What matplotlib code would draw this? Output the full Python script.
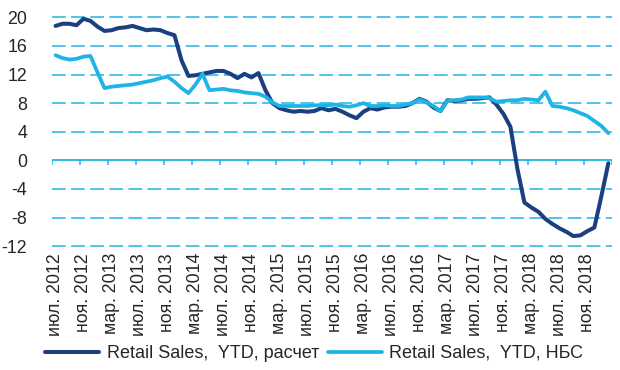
import numpy as np
import matplotlib
matplotlib.use("Agg")
import matplotlib.pyplot as plt

plt.rcParams['font.family'] = ['Liberation Sans', 'DejaVu Sans']
plt.rcParams['axes.unicode_minus'] = False

# monthly data, Jul 2012 .. Feb 2019
calc = [18.8, 19.1, 19.1, 18.9, 19.8, 19.5, 18.7, 18.1, 18.2, 18.5,
        18.6, 18.8, 18.5, 18.2, 18.3, 18.2, 17.8, 17.5, 14.0, 11.8,
        11.9, 12.1, 12.3, 12.5, 12.5, 12.1, 11.5, 12.1, 11.6, 12.2,
        9.8, 8.0, 7.3, 7.0, 6.8, 6.9, 6.8, 6.9, 7.3, 7.0,
        7.2, 6.8, 6.3, 5.9, 6.8, 7.3, 7.1, 7.4, 7.5, 7.5,
        7.6, 8.0, 8.6, 8.2, 7.4, 6.9, 8.4, 8.3, 8.4, 8.6,
        8.6, 8.7, 8.8, 7.8, 6.5, 4.7, -1.2, -5.9, -6.6, -7.2,
        -8.2, -8.9, -9.5, -10.0, -10.6, -10.5, -9.9, -9.4, -5.0, -0.4]

nbs = [14.7, 14.3, 14.1, 14.2, 14.5, 14.6, 12.3, 10.1, 10.3, 10.4,
       10.5, 10.6, 10.8, 11.0, 11.2, 11.5, 11.7, 11.0, 10.1, 9.4,
       10.6, 12.1, 9.8, 9.9, 10.0, 9.8, 9.7, 9.5, 9.4, 9.3,
       8.9, 8.1, 7.6, 7.6, 7.6, 7.6, 7.6, 7.7, 7.7, 7.7,
       7.8, 7.6, 7.5, 7.7, 8.0, 7.6, 7.6, 7.7, 7.6, 7.6,
       7.8, 8.0, 8.5, 8.1, 7.6, 6.9, 8.3, 8.4, 8.5, 8.8,
       8.8, 8.8, 8.7, 8.2, 8.3, 8.4, 8.4, 8.6, 8.5, 8.4,
       9.6, 7.6, 7.5, 7.3, 7.0, 6.6, 6.2, 5.5, 4.8, 3.8]

tick_labels = ["июл. 2012", "ноя. 2012", "мар. 2013", "июл. 2013", "ноя. 2013",
               "мар. 2014", "июл. 2014", "ноя. 2014", "мар. 2015", "июл. 2015",
               "ноя. 2015", "мар. 2016", "июл. 2016", "ноя. 2016", "мар. 2017",
               "июл. 2017", "ноя. 2017", "мар. 2018", "июл. 2018", "ноя. 2018"]

yticks = [-12, -8, -4, 0, 4, 8, 12, 16, 20]

dark = '#1b3f7f'
light = '#1fb4e6'
txt = '#262626'
fs = 12.8

x = np.arange(len(calc))

fig = plt.figure(figsize=(6.2, 3.7), dpi=100)
ax = fig.add_axes([0.0839, 0.331, 0.903, 0.626])

# dashed gridlines
for y in yticks:
    if y == 0:
        ax.axhline(y, color=light, lw=1.3, zorder=1)
    else:
        ax.axhline(y, color=light, lw=1.1, ls=(0, (9, 3.5)), zorder=1)

# small tick marks on the zero line
bounds = np.arange(-0.5, len(calc), 4)
ax.vlines(bounds, -0.7, 0, color=light, lw=1.1, zorder=1)

ax.plot(x, calc, color=dark, lw=2.9, solid_capstyle='round', zorder=3,
        label='Retail Sales,  YTD, расчет')
ax.plot(x, nbs, color=light, lw=2.7, solid_capstyle='round', zorder=4,
        label='Retail Sales,  YTD, НБС')

ax.set_xlim(-0.5, len(calc) - 0.5)
ax.set_ylim(-12.2, 20.2)
ax.set_yticks(yticks)
ax.set_xticks(np.arange(0, len(calc), 4))
ax.set_xticklabels(tick_labels, rotation=90, fontsize=fs, color=txt)
ax.tick_params(axis='y', length=0, pad=18, labelsize=fs, labelcolor=txt)
ax.tick_params(axis='x', length=0, pad=4)
for s in ax.spines.values():
    s.set_visible(False)

fig.legend(loc='center', bbox_to_anchor=(0.507, 0.045), ncol=2, frameon=False,
           fontsize=13, handlelength=3.0, handletextpad=0.4,
           columnspacing=0.5, labelcolor=txt)

fig.savefig("out.png", dpi=100)
